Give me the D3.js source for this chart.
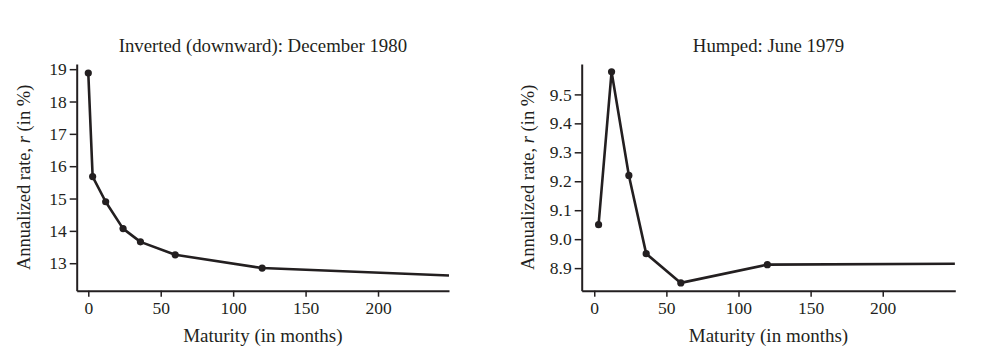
<!DOCTYPE html>
<html>
<head>
<meta charset="utf-8">
<script src="https://cdn.jsdelivr.net/npm/d3@7"></script>
<style>
  html, body { margin: 0; padding: 0; background: #fff; }
  svg { display: block; }
</style>
</head>
<body>
<svg id="chart" width="999" height="360" font-family="'Liberation Serif', 'DejaVu Serif', serif"></svg>
<script>
// ---- Data ----
const invertedTitle = "Inverted (downward): December 1980";
const invertedMaturities = [0, 3, 12, 24, 36, 60, 120];
const invertedRates = [18.88, 15.68, 14.9, 14.07, 13.66, 13.26, 12.85];
const invertedLongEnd = [249, 12.62];

const humpedTitle = "Humped: June 1979";
const humpedMaturities = [3, 12, 24, 36, 60, 120];
const humpedRates = [9.05, 9.578, 9.22, 8.95, 8.849, 8.912];
const humpedLongEnd = [250, 8.915];

const xTicks = [0, 50, 100, 150, 200];
const invertedYTicks = [13, 14, 15, 16, 17, 18, 19];
const humpedYTicks = [8.9, 9.0, 9.1, 9.2, 9.3, 9.4, 9.5];

const xLabel = "Maturity (in months)";
const ink = "#231f20";
const FONT = "'Liberation Serif', 'DejaVu Serif', serif";

const svg = d3.select("#chart");

function panel(opts) {
  const g = svg.append("g").attr("font-family", FONT);
  const x = d3.scaleLinear().domain(opts.xDomain).range([opts.left, opts.right]);
  const y = d3.scaleLinear().domain(opts.yDomain).range([opts.bottom, opts.top]);

  const xAxis = g.append("g")
    .attr("transform", `translate(0,${opts.bottom})`)
    .call(d3.axisBottom(x).tickValues(xTicks).tickSize(6).tickSizeOuter(0).tickPadding(5));
  const yAxis = g.append("g")
    .attr("transform", `translate(${opts.left},0)`)
    .call(d3.axisLeft(y).tickValues(opts.yTicks).tickSize(7).tickSizeOuter(0).tickPadding(3)
      .tickFormat(opts.yFormat));

  [xAxis, yAxis].forEach(a => {
    a.attr("font-family", FONT).attr("font-size", 17.5);
    a.select(".domain").attr("stroke", ink).attr("stroke-width", 2);
    a.selectAll(".tick line").attr("stroke", ink).attr("stroke-width", 1.5);
    a.selectAll(".tick text").attr("fill", ink);
  });

  const pts = opts.maturities.map((m, i) => [m, opts.rates[i]]);
  const linePts = pts.concat([opts.longEnd]);
  g.append("path")
    .datum(linePts)
    .attr("fill", "none")
    .attr("stroke", ink)
    .attr("stroke-width", 2.6)
    .attr("stroke-linejoin", "round")
    .attr("d", d3.line().x(d => x(d[0])).y(d => y(d[1])));

  g.selectAll("circle.pt").data(pts).enter().append("circle")
    .attr("class", "pt")
    .attr("cx", d => x(d[0])).attr("cy", d => y(d[1]))
    .attr("r", 3.6).attr("fill", ink);

  const cx = (opts.left + opts.right) / 2;
  g.append("text").attr("x", cx).attr("y", 52).attr("fill", ink)
    .attr("text-anchor", "middle").attr("font-size", 18.8).text(opts.title);
  g.append("text").attr("x", cx).attr("y", 342).attr("fill", ink)
    .attr("text-anchor", "middle").attr("font-size", 19).text(xLabel);

  const yl = g.append("text")
    .attr("transform", `translate(${opts.yLabelX},${(opts.top + opts.bottom) / 2}) rotate(-90)`)
    .attr("fill", ink)
    .attr("text-anchor", "middle").attr("font-size", 18.5);
  yl.append("tspan").text("Annualized rate, ");
  yl.append("tspan").attr("font-style", "italic").text("r");
  yl.append("tspan").text(" (in %)");
}

panel({
  title: invertedTitle, maturities: invertedMaturities, rates: invertedRates, longEnd: invertedLongEnd,
  xDomain: [-8, 249], yDomain: [12.15, 19.16], yTicks: invertedYTicks, yFormat: d3.format("d"),
  left: 76.7, right: 449, top: 64, bottom: 290.7, yLabelX: 30
});
panel({
  title: humpedTitle, maturities: humpedMaturities, rates: humpedRates, longEnd: humpedLongEnd,
  xDomain: [-8.7, 250.3], yDomain: [8.822, 9.605], yTicks: humpedYTicks, yFormat: d3.format(".1f"),
  left: 581.7, right: 955.3, top: 64, bottom: 290.7, yLabelX: 533.5
});
</script>
</body>
</html>
